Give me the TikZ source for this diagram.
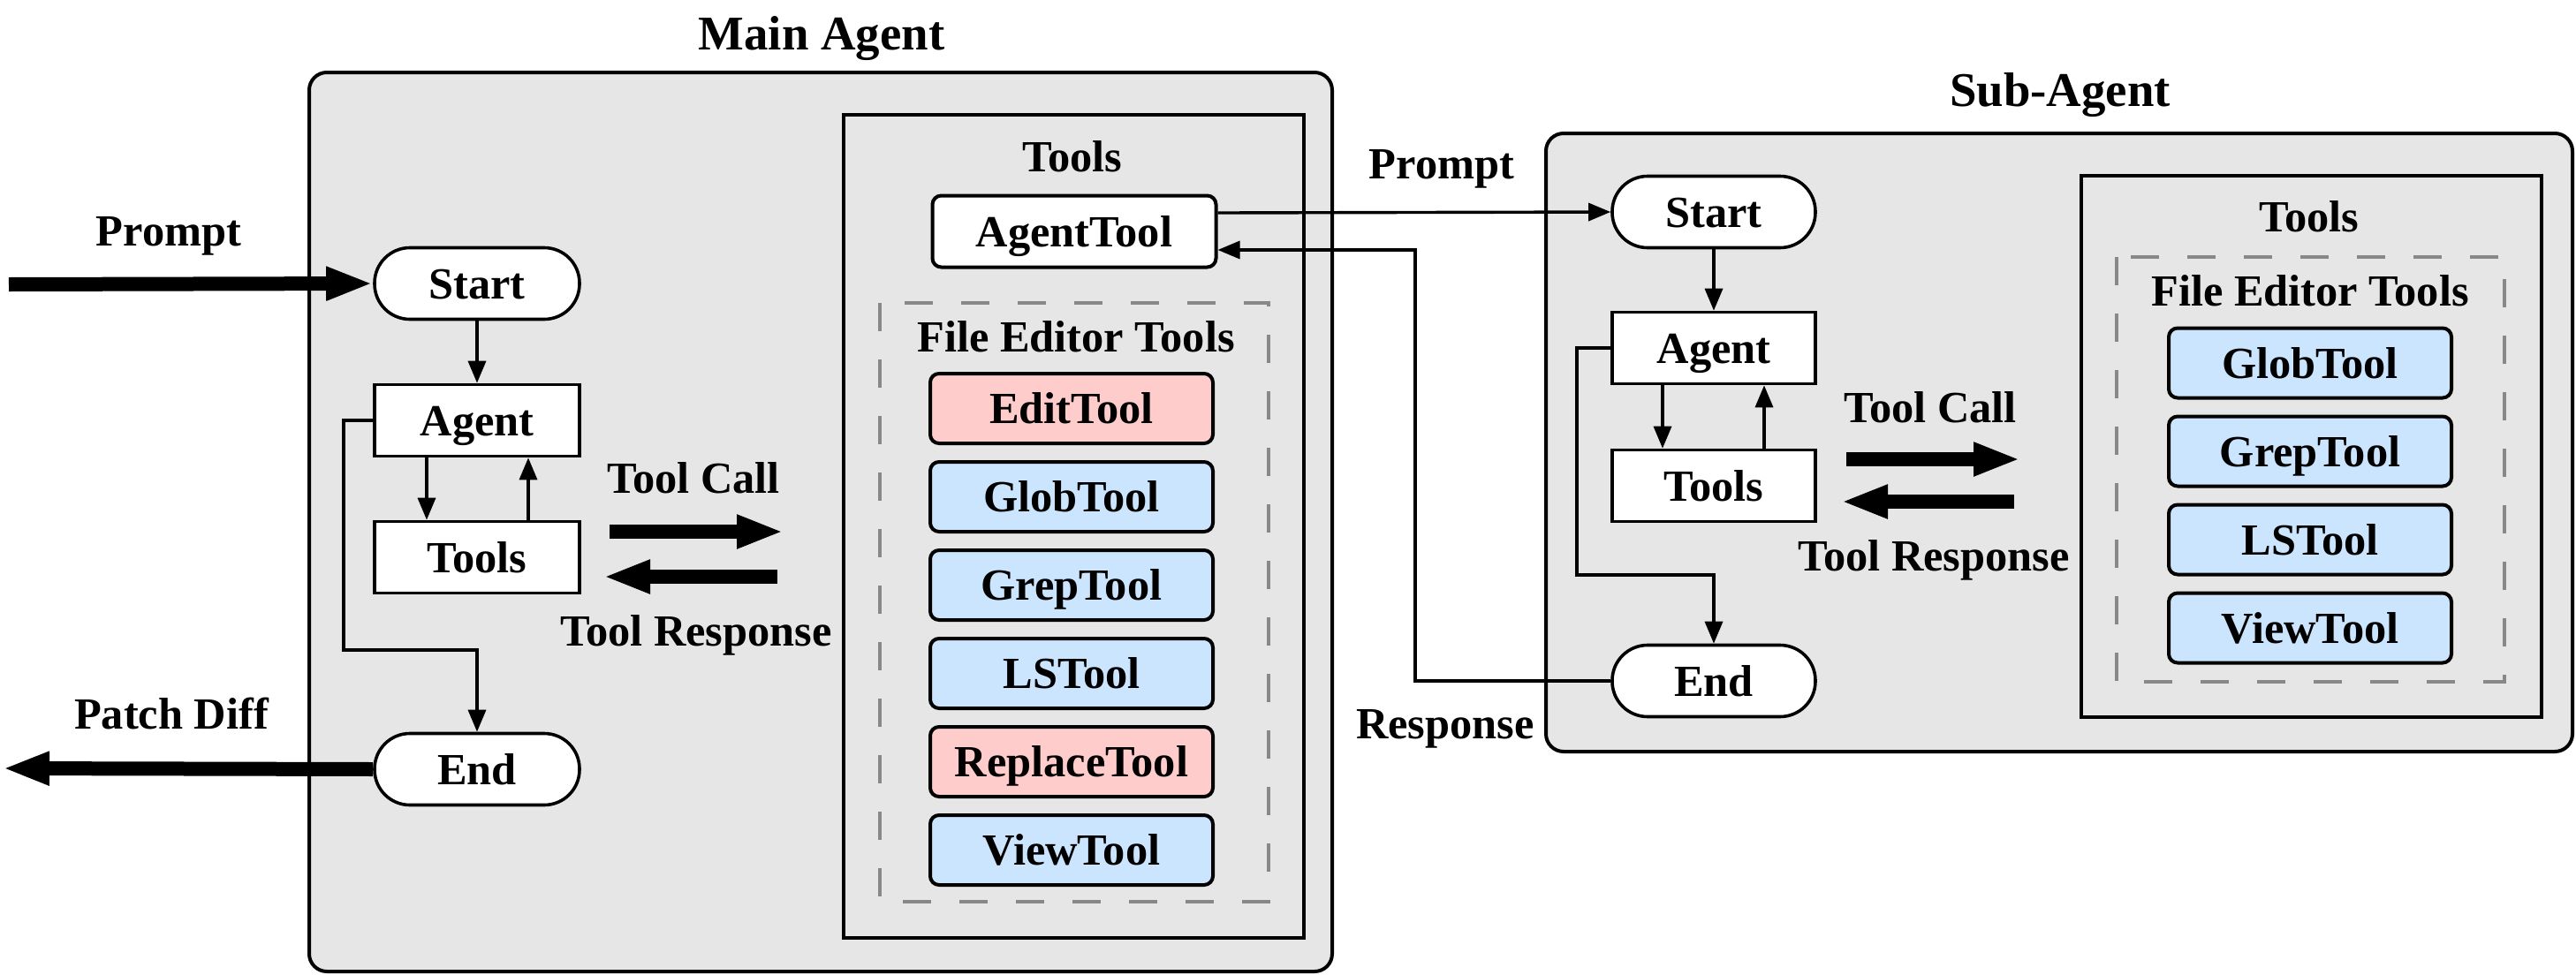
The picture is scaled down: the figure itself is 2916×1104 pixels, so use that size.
\documentclass[tikz,border=0pt]{standalone}
\usepackage{fontspec}
\setmainfont{Liberation Serif}
\usetikzlibrary{arrows.meta}

\definecolor{framegray}{HTML}{E6E6E6}
\definecolor{editred}{HTML}{FFCCCC}
\definecolor{readblue}{HTML}{CCE5FF}
\definecolor{dashgray}{HTML}{888888}

\tikzset{
	every node/.style={font=\fontsize{12.6}{15}\selectfont\bfseries},
	flowbox/.style={draw, line width=0.9pt, fill=white, minimum width=58pt, minimum height=20.25pt, inner sep=0pt, text height=0.9em, text depth=0.04em},
	termbox/.style={flowbox, rounded corners=10pt},
	toolbox/.style={draw, line width=1pt, rounded corners=2.5pt, minimum width=80pt, minimum height=19.75pt, inner sep=0pt, text height=0.9em, text depth=0.04em},
	agentframe/.style={draw, line width=1pt, fill=framegray, rounded corners=5pt},
	toolframe/.style={draw, line width=1.1pt},
	editframe/.style={draw=dashgray, line width=1pt, dash pattern=on 8pt off 8pt},
	flow/.style={-{Triangle[length=6.25pt,width=5pt]}, line width=0.85pt},
	bigflow/.style={-{Triangle[length=13.25pt,width=8.75pt]}, line width=4pt},
	lbl/.style={anchor=base, inner sep=0pt},
	title/.style={anchor=base, inner sep=0pt, font=\fontsize{13.7}{16}\selectfont\bfseries}
}

\begin{document}
\begin{tikzpicture}[x=0.25pt, y=-0.25pt]
	\useasboundingbox (0,0) rectangle (2916,1104);

	% main agent
	\draw[agentframe] (350,82) rectangle (1508,1100);
	\node[title] (mtitle) at (930,56) {Main Agent};
	\draw[toolframe] (955,130) rectangle (1476,1062);
	\node[lbl] (mtoolstitle) at (1214,194) {Tools};
	\node[toolbox, fill=white, minimum width=80.25pt, minimum height=20.25pt] (mAgentTool) at (1216,262) {AgentTool};
	\draw[editframe] (996,343) rectangle (1436,1021);
	\node[lbl] (meditortitle) at (1218,398) {File Editor Tools};
	\foreach \name/\col [count=\i] in {EditTool/editred, GlobTool/readblue, GrepTool/readblue, LSTool/readblue, ReplaceTool/editred, ViewTool/readblue}
		\node[toolbox, fill=\col] (m\name) at (1213,362.5+100*\i) {\name};

	\node[termbox] (mStart) at (540,321) {Start};
	\node[flowbox] (mAgent) at (540,476) {Agent};
	\node[flowbox] (mTools) at (540,631) {Tools};
	\node[termbox] (mEnd) at (540,871) {End};

	\draw[flow] (mStart) -- (mAgent);
	\draw[flow] ([xshift=-14.25pt]mAgent.south) -- ([xshift=-14.25pt]mTools.north);
	\draw[flow] ([xshift=14.5pt]mTools.north) -- ([xshift=14.5pt]mAgent.south);
	\coordinate (mbend) at (389,736);
	\draw[flow] (mAgent.west) -| (mbend) -| (mEnd.north);

	\coordinate (pin) at (10,322);
	\coordinate (pout) at (3,870);
	\draw[bigflow] (pin) -- (mStart.west);
	\draw[bigflow] (mEnd.west) -- (pout);
	\node[lbl] (promptin) at (191,278) {Prompt};
	\node[lbl] (patchout) at (194,825) {Patch Diff};

	\coordinate (mcall1) at (690,602);
	\coordinate (mcall2) at (887,602);
	\coordinate (mresp1) at (880,653);
	\coordinate (mresp2) at (683,653);
	\draw[bigflow] (mcall1) -- (mcall2);
	\draw[bigflow] (mresp1) -- (mresp2);
	\node[lbl] (mcalltext) at (785,558) {Tool Call};
	\node[lbl] (mresptext) at (788,731) {Tool Response};

	% sub agent
	\draw[agentframe] (1750,151) rectangle (2912,851);
	\node[title] (stitle) at (2332,120) {Sub-Agent};
	\draw[toolframe] (2356,199) rectangle (2877,812);
	\node[lbl] (stoolstitle) at (2614,262) {Tools};
	\draw[editframe] (2396,291) rectangle (2835,772);
	\node[lbl] (seditortitle) at (2615,346) {File Editor Tools};
	\foreach \name [count=\i] in {GlobTool, GrepTool, LSTool, ViewTool}
		\node[toolbox, fill=readblue] (s\name) at (2615,311+100*\i) {\name};

	\node[termbox, minimum width=57.5pt] (sStart) at (1940,240) {Start};
	\node[flowbox, minimum width=57.5pt] (sAgent) at (1940,394) {Agent};
	\node[flowbox, minimum width=57.5pt] (sTools) at (1940,550) {Tools};
	\node[termbox, minimum width=57.5pt] (sEnd) at (1940,771) {End};

	\draw[flow] (sStart) -- (sAgent);
	\draw[flow] ([xshift=-14.5pt]sAgent.south) -- ([xshift=-14.5pt]sTools.north);
	\draw[flow] ([xshift=14.25pt]sTools.north) -- ([xshift=14.25pt]sAgent.south);
	\coordinate (sbend) at (1785,651);
	\draw[flow] (sAgent.west) -| (sbend) -| (sEnd.north);

	\coordinate (scall1) at (2090,520);
	\coordinate (scall2) at (2287,520);
	\coordinate (sresp1) at (2280,568);
	\coordinate (sresp2) at (2084,568);
	\draw[bigflow] (scall1) -- (scall2);
	\draw[bigflow] (sresp1) -- (sresp2);
	\node[lbl] (scalltext) at (2185,478) {Tool Call};
	\node[lbl] (sresptext) at (2189,646) {Tool Response};

	% between the agents
	\draw[flow] ([yshift=5.25pt]mAgentTool.east) -- (sStart.west);
	\coordinate (rbend) at (1602,283);
	\draw[flow] (sEnd.west) -| (rbend) -- ([yshift=-5.25pt]mAgentTool.east);
	\node[lbl] (subprompt) at (1632,202) {Prompt};
	\node[lbl] (subresponse) at (1636,836) {Response};
\end{tikzpicture}
\end{document}
